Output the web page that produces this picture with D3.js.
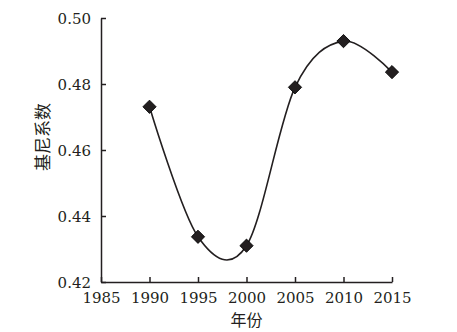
<!DOCTYPE html>
<html><head><meta charset="utf-8">
<script src="https://cdn.jsdelivr.net/npm/d3@7"></script>
<style>html,body{margin:0;padding:0;background:#fff;}</style>
</head><body>
<svg id="c" width="457" height="332"></svg>
<script>
const years = [1990, 1995, 2000, 2005, 2010, 2015];
const gini = [0.4731, 0.4337, 0.4310, 0.4790, 0.4930, 0.4836];
const xTicks = [1985, 1990, 1995, 2000, 2005, 2010, 2015];
const yTicks = [0.42, 0.44, 0.46, 0.48, 0.50];
const xTitle = "年份";
const yTitle = "基尼系数";

const svg = d3.select("#c");
const x = d3.scaleLinear().domain([1985, 2015]).range([101, 392]);
const y = d3.scaleLinear().domain([0.42, 0.50]).range([282, 18]);
const serif = "DejaVu Serif";
const ink = "#231f20";

const gx = svg.append("g").attr("transform", "translate(0,282)")
  .call(d3.axisBottom(x).tickValues(xTicks).tickFormat(d3.format("d")).tickSizeInner(-5).tickSizeOuter(0).tickPadding(10));
const gy = svg.append("g").attr("transform", "translate(101,0)")
  .call(d3.axisLeft(y).tickValues(yTicks).tickFormat(d3.format(".2f")).tickSizeInner(-5).tickSizeOuter(0).tickPadding(10));
[gx, gy].forEach(g => {
  g.attr("font-family", null).attr("font-size", null);
  g.select(".domain").attr("stroke", ink).attr("stroke-width", 1.5);
  g.selectAll(".tick line").attr("stroke", ink).attr("stroke-width", 1.5);
  g.selectAll(".tick text").attr("fill", ink).style("font-family", serif).style("font-size", "15px");
});
gy.selectAll(".tick text").attr("dy", "0.35em");

const line = d3.line().x((d, i) => x(years[i])).y(d => y(d)).curve(d3.curveCardinal.tension(0));
svg.append("path").datum(gini).attr("d", line)
  .attr("fill", "none").attr("stroke", ink).attr("stroke-width", 1.6);

const sym = d3.symbol().type(d3.symbolSquare).size(88);
svg.selectAll(".pt").data(gini).enter().append("path")
  .attr("d", sym)
  .attr("transform", (d, i) => `translate(${x(years[i])},${y(d)}) rotate(45)`)
  .attr("fill", ink).attr("stroke", "#000").attr("stroke-width", 0.8);

svg.append("text").attr("x", 246.5).attr("y", 320).attr("text-anchor", "middle").attr("dy", "0.35em")
  .attr("font-family", "Noto Sans CJK SC, sans-serif").attr("font-size", 16).attr("fill", ink).text(xTitle);
svg.append("text").attr("transform", "translate(43,137) rotate(-90)").attr("text-anchor", "middle").attr("dy", "0.35em")
  .attr("font-family", "Noto Sans CJK SC, sans-serif").attr("font-size", 17).attr("fill", ink).text(yTitle);
</script>
</body></html>
